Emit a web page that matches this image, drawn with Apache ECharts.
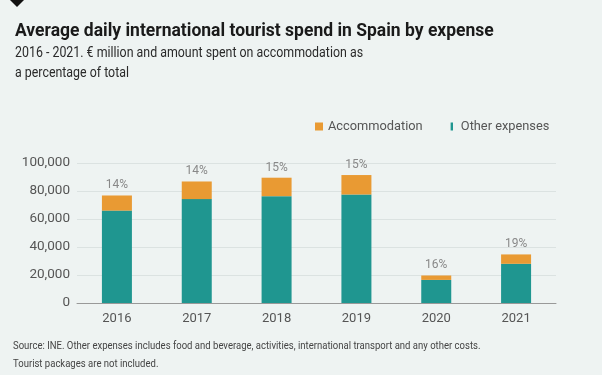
<!DOCTYPE html>
<html><head><meta charset="utf-8">
<script src="https://cdn.jsdelivr.net/npm/echarts@6/dist/echarts.min.js"></script>
<style>html,body{margin:0;padding:0;background:#eef3f2;}#c{width:602px;height:375px;}</style>
</head><body><div id="c"></div>
<script>
const years = ['2016','2017','2018','2019','2020','2021'];
const otherExpenses = [66000, 74200, 76300, 77500, 16500, 28000];
const accommodation = [10800, 12600, 13200, 13900, 3150, 6700];
const accomPct = ['14%','14%','15%','15%','16%','19%'];
const yTicks = [0, 20000, 40000, 60000, 80000, 100000];

const FONT = 'Roboto, "Noto Sans", sans-serif';
const chart = echarts.init(document.getElementById('c'), null, {renderer:'canvas'});
chart.setOption({
  backgroundColor: '#eef3f2',
  animation: false,
  textStyle: {fontFamily: FONT},
  graphic: [
    {type:'polygon', shape:{points:[[10,0],[24,0],[17,7]]}, style:{fill:'#111'}},
    {type:'text', x:15, y:23, style:{text:'Average daily international tourist spend in Spain by expense', font:'bold 17.5px ' + FONT, fill:'#1a1a1a', verticalAlign:'top'}},
    {type:'text', x:15, y:44, scaleX:0.885, originX:0, originY:0,
     style:{text:'2016 - 2021. € million and amount spent on accommodation as\na percentage of total', font:'14px ' + FONT, fill:'#2a2a2a', lineHeight:19.5, verticalAlign:'top'}},
    {type:'text', x:13, y:337, scaleX:0.866, originX:0, originY:0,
     style:{text:'Source: INE. Other expenses includes food and beverage, activities, international transport and any other costs.\nTourist packages are not included.', font:'11px ' + FONT, fill:'#444', lineHeight:18, verticalAlign:'top'}}
  ],
  legend: {
    left: 315, top: 120, padding: 0, itemGap: 28, itemWidth: 8, itemHeight: 8,
    textStyle: {color:'#555', fontSize:12.8, fontFamily: FONT},
    data: [
      {name:'Accommodation', icon:'rect'},
      {name:'Other expenses', icon:'path://M0,0h3v10h-3z'}
    ]
  },
  grid: {left:77, right:46, top:163, bottom:72},
  xAxis: {
    type:'category', data: years,
    axisLine:{lineStyle:{color:'#999', width:1}},
    axisTick:{show:false},
    axisLabel:{color:'#555', fontSize:13, margin:9, fontFamily: FONT}
  },
  yAxis: {
    type:'value', min:0, max:100000, interval:20000,
    axisLabel:{color:'#555', fontSize:13.5, margin:7, fontFamily: FONT,
      formatter: v => yTicks.includes(v) ? v.toLocaleString('en-US') : ''},
    splitLine:{lineStyle:{color:'#dbe2e1', width:1}},
    axisLine:{show:false}, axisTick:{show:false}
  },
  series: [
    {name:'Other expenses', type:'bar', stack:'t', data: otherExpenses, barWidth:30,
     itemStyle:{color:'#1f9690'}},
    {name:'Accommodation', type:'bar', stack:'t', data: accommodation, barWidth:30,
     itemStyle:{color:'#e99a33'},
     label:{show:true, position:'top', distance:4, color:'#888', fontSize:12, fontFamily: FONT,
       formatter: p => accomPct[p.dataIndex]}}
  ]
});
</script></body></html>
